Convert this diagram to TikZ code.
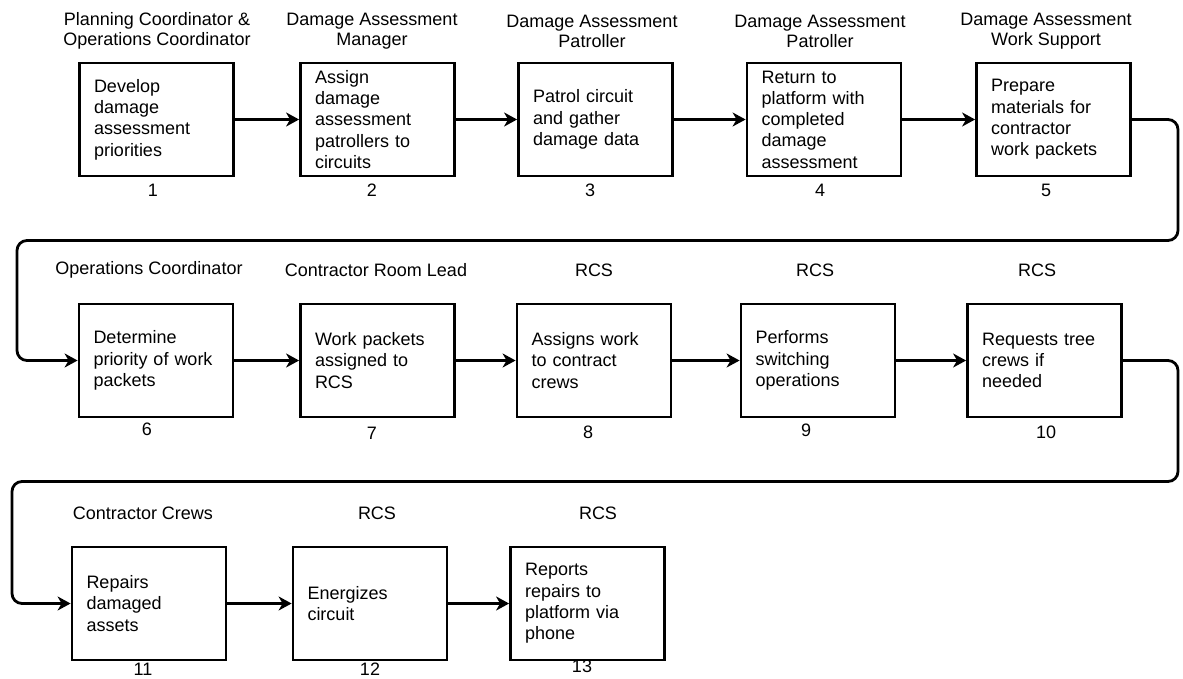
\documentclass[tikz,border=0pt]{standalone}
\usepackage{fontspec}
\setmainfont{Liberation Sans}
\usetikzlibrary{arrows.meta}
\begin{document}
\begin{tikzpicture}[x=1pt,y=-1pt,
  box/.style={draw, line width=2.8pt, rectangle, minimum width=154pt, minimum height=113pt,
    text width=125pt, inner xsep=14.5pt, align=left, font=\fontsize{18}{21.3}\selectfont},
  role/.style={align=center, inner sep=0pt, font=\fontsize{18}{20}\selectfont},
  num/.style={inner sep=0pt, font=\fontsize{18}{20}\selectfont},
  arr/.style={line width=2.8pt, -{Stealth[length=13pt,width=14pt,inset=4pt]}},
  loop/.style={arr, rounded corners=10pt}]
\useasboundingbox (0,0) rectangle (1183,679);
% row 1
\node[box] (b1) at (156.5,119.5) {Develop\\damage\\assessment\\priorities};
\node[box] (b2) at (377.5,119.5) {Assign\\damage\\assessment\\patrollers to\\circuits};
\node[box] (b3) at (595.5,119.5) {Patrol circuit\\and gather\\damage data};
\node[box] (b4) at (824,119.5) {Return to\\platform with\\completed\\damage\\assessment};
\node[box] (b5) at (1053.5,119.5) {Prepare\\materials for\\contractor\\work packets};
% row 2
\node[box] (b6) at (156,360.5) {Determine\\priority of work\\packets};
\node[box] (b7) at (377.5,360.5) {Work packets\\assigned to\\RCS};
\node[box] (b8) at (594,360.5) {Assigns work\\to contract\\crews};
\node[box] (b9) at (818,360.5) {Performs\\switching\\operations};
\node[box] (b10) at (1044.5,360.5) {Requests tree\\crews if\\needed};
% row 3
\node[box] (b11) at (149,603.5) {Repairs\\damaged\\assets};
\node[box] (b12) at (370,603.5) {Energizes\\circuit};
\node[box] (b13) at (587.5,603.5) {Reports\\repairs to\\platform via\\phone};
% roles
\node[role] (r1) at (157,31) {Planning Coordinator \&\\Operations Coordinator};
\node[role] (r2) at (372,31) {Damage Assessment\\Manager};
\node[role] (r3) at (592,31) {Damage Assessment\\Patroller};
\node[role] (r4) at (820,31) {Damage Assessment\\Patroller};
\node[role] (r5) at (1046,31) {Damage Assessment\\Work Support};
\node[role] (r6) at (149,270) {Operations Coordinator};
\node[role] (r7) at (376,270) {Contractor Room Lead};
\node[role] (r8) at (594,270) {RCS};
\node[role] (r9) at (815,270) {RCS};
\node[role] (r10) at (1037,270) {RCS};
\node[role] (r11) at (143,513) {Contractor Crews};
\node[role] (r12) at (377,513) {RCS};
\node[role] (r13) at (598,513) {RCS};
% numbers
\node[num] (n1) at (153,190) {1};
\node[num] (n2) at (372,190) {2};
\node[num] (n3) at (590,190) {3};
\node[num] (n4) at (820,190) {4};
\node[num] (n5) at (1046,190) {5};
\node[num] (n6) at (147,429) {6};
\node[num] (n7) at (372,433) {7};
\node[num] (n8) at (588,432) {8};
\node[num] (n9) at (806,430) {9};
\node[num] (n10) at (1046,432) {10};
\node[num] (n11) at (143,669) {11};
\node[num] (n12) at (370,669) {12};
\node[num] (n13) at (582,666) {13};
% connectors
\draw[arr] (b1) -- (b2);
\draw[arr] (b2) -- (b3);
\draw[arr] (b3) -- (b4);
\draw[arr] (b4) -- (b5);
\draw[arr] (b6) -- (b7);
\draw[arr] (b7) -- (b8);
\draw[arr] (b8) -- (b9);
\draw[arr] (b9) -- (b10);
\draw[arr] (b11) -- (b12);
\draw[arr] (b12) -- (b13);
\coordinate (ra) at (1178,240.5);
\coordinate (la) at (17,240.5);
\coordinate (rb) at (1178,481.5);
\coordinate (lb) at (12,481.5);
\draw[loop] (b5.east) -| (ra) -- (la) |- (b6.west);
\draw[loop] (b10.east) -| (rb) -- (lb) |- (b11.west);
\end{tikzpicture}
\end{document}
